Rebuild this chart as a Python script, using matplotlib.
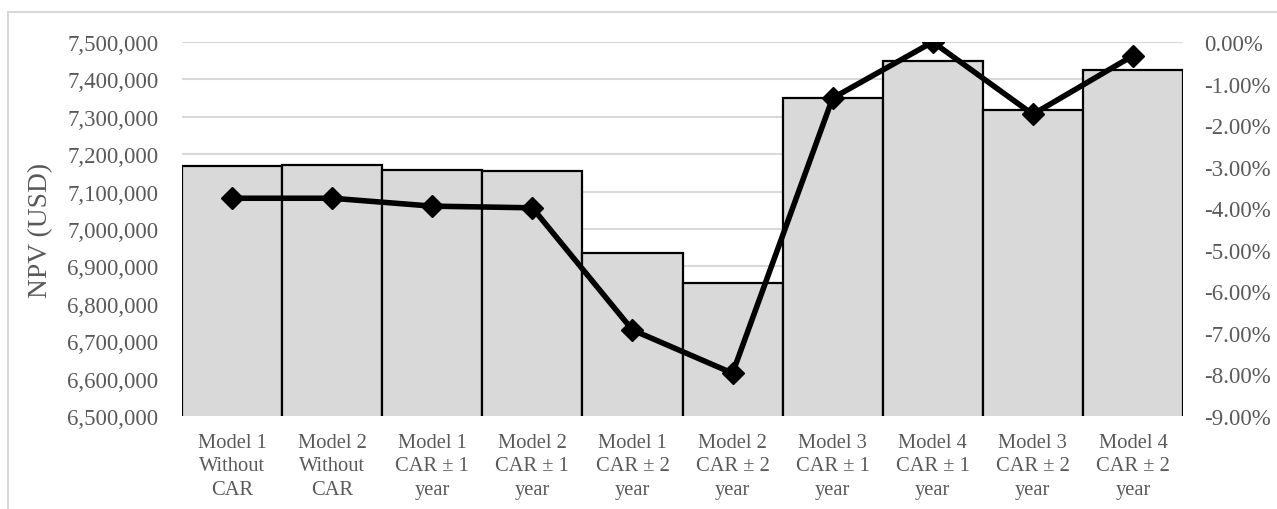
import matplotlib
matplotlib.use('Agg')
import matplotlib.pyplot as plt
from matplotlib.patches import Rectangle
from matplotlib.ticker import FuncFormatter

categories = ['Model 1\nWithout\nCAR', 'Model 2\nWithout\nCAR', 'Model 1\nCAR ± 1\nyear',
              'Model 2\nCAR ± 1\nyear', 'Model 1\nCAR ± 2\nyear', 'Model 2\nCAR ± 2\nyear',
              'Model 3\nCAR ± 1\nyear', 'Model 4\nCAR ± 1\nyear', 'Model 3\nCAR ± 2\nyear',
              'Model 4\nCAR ± 2\nyear']
npv = [7169000, 7170000, 7158000, 7155000, 6935000, 6856000, 7349000, 7448500, 7319000, 7424000]
pct = [-3.76, -3.76, -3.95, -3.99, -6.93, -7.97, -1.35, 0.0, -1.74, -0.33]

plt.rcParams['font.family'] = ['Liberation Serif', 'DejaVu Serif']
grey = '#595959'

fig = plt.figure(figsize=(12.77, 5.10), dpi=100)
ax = fig.add_axes([182/1277, 1-417/510, (1183-182)/1277, (417-43)/510])

# outer border (only top and left edges fall inside the picture)
fig.patches.append(Rectangle((8/1277, -0.1), 1.1, 1.1-13/510, transform=fig.transFigure,
                             fill=False, edgecolor='#d9d9d9', linewidth=1.5))

x = list(range(len(categories)))
ax.bar(x, npv, width=1.0, color='#d9d9d9', edgecolor='black', linewidth=1.6, zorder=2)
ax.set_ylim(6500000, 7500000)
ax.set_xlim(-0.5, len(categories) - 0.5)
ax.set_yticks(range(6500000, 7500001, 100000))
ax.yaxis.set_major_formatter(FuncFormatter(lambda v, p: f'{int(v):,}'))
ax.grid(axis='y', color='#d9d9d9', linewidth=1.5, zorder=0)
ax.set_axisbelow(True)
for s in ax.spines.values():
    s.set_visible(False)
ax.tick_params(axis='y', length=0, labelsize=16.5, labelcolor=grey, pad=17)
ax.tick_params(axis='x', length=0, labelsize=14.8, labelcolor=grey, pad=12)
ax.set_xticks(x)
ax.set_xticklabels(categories, linespacing=1.32)
ax.set_ylabel('NPV (USD)', fontsize=19.8, color=grey)
ax.yaxis.set_label_coords(-0.129, 0.5)

ax2 = ax.twinx()
ax2.plot(x, pct, color='black', linewidth=4, marker='D', markersize=11, zorder=5)
ax2.set_ylim(-9, 0)
ax2.set_yticks(range(-9, 1))
ax2.yaxis.set_major_formatter(FuncFormatter(lambda v, p: f'{v:.2f}%'))
ax2.tick_params(axis='y', length=0, labelsize=16.5, labelcolor=grey, pad=15)
for s in ax2.spines.values():
    s.set_visible(False)

fig.savefig('out.png', dpi=100)
